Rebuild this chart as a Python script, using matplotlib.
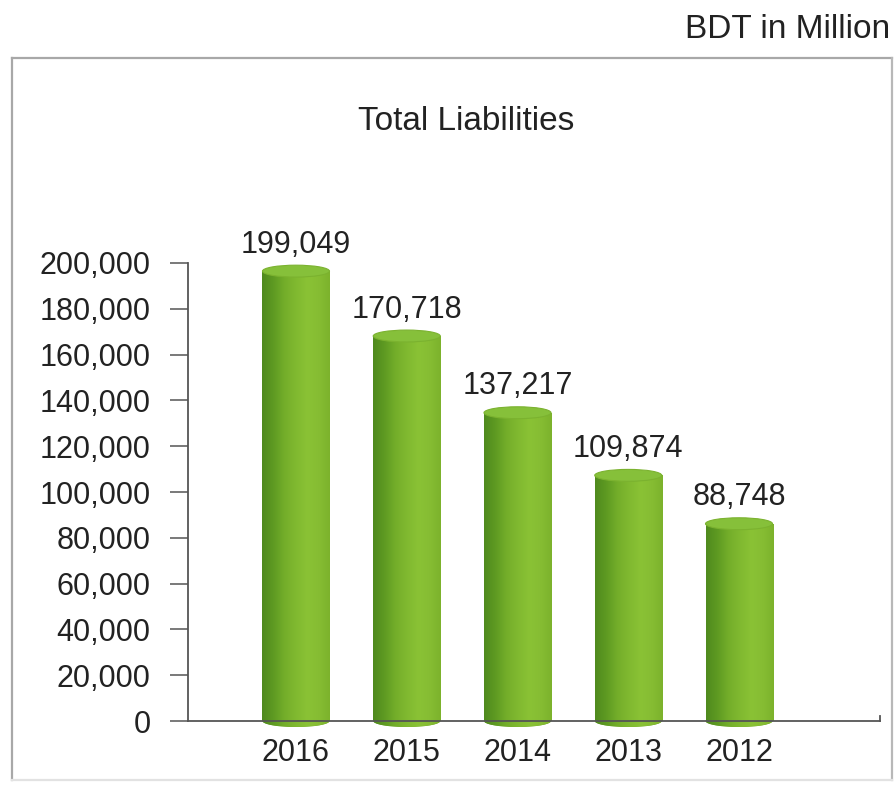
import matplotlib
matplotlib.use("Agg")
import matplotlib.pyplot as plt
import numpy as np
from matplotlib.patches import Rectangle, Ellipse
from matplotlib.colors import LinearSegmentedColormap
from matplotlib.lines import Line2D

years = ["2016", "2015", "2014", "2013", "2012"]
values = [199049, 170718, 137217, 109874, 88748]
yticks = [0, 20000, 40000, 60000, 80000, 100000, 120000, 140000, 160000, 180000, 200000]
title = "Total Liabilities"
unit = "BDT in Million"

plt.rcParams['font.family'] = ['Liberation Sans', 'DejaVu Sans']

W, H = 894, 789
fig = plt.figure(figsize=(W / 100, H / 100), dpi=100)
fig.patch.set_facecolor("white")

# outer frame
fx0, fx1, fy0, fy1 = 12 / W, 892 / W, 1 - 780 / H, 1 - 58 / H
for xs, ys, c in [([fx0, fx0], [fy0, fy1], "#a8a8a8"),
                  ([fx0, fx1], [fy1, fy1], "#a8a8a8"),
                  ([fx1, fx1], [fy0, fy1], "#b8b8b8"),
                  ([fx0, fx1], [fy0, fy0], "#e2e2e2")]:
    fig.add_artist(Line2D(xs, ys, color=c, lw=1.6, transform=fig.transFigure))

ax_left, ax_right = 188 / W, 880 / W
ax_bottom_px, ax_top_px = 727.9, 263
ax = fig.add_axes([ax_left, 1 - ax_bottom_px / H, ax_right - ax_left,
                   (ax_bottom_px - ax_top_px) / H])
ax.set_facecolor("none")

x = np.arange(len(years))
bw = 0.605
cap_h = 5200

cmap = LinearSegmentedColormap.from_list(
    "cyl", ["#4f8a1e", "#5e9a22", "#74ae2a", "#80b930", "#8ac235", "#86bd33", "#7cb22c"])
grad = np.linspace(0, 1, 256).reshape(1, -1)

for xi, v in zip(x, values):
    x0 = xi - bw / 2
    # bottom ellipse
    bot = Ellipse((xi, 0), bw, cap_h, facecolor="#6aa527", edgecolor="none", zorder=2)
    ax.add_patch(bot)
    body = Rectangle((x0, 0), bw, v - cap_h / 2, facecolor="none", edgecolor="none")
    ax.add_patch(body)
    im = ax.imshow(grad, cmap=cmap, extent=[x0, x0 + bw, 0, v - cap_h / 2],
                   aspect="auto", origin="lower", zorder=3, interpolation="bilinear")
    im.set_clip_path(body)
    im2 = ax.imshow(grad, cmap=cmap, extent=[x0, x0 + bw, -cap_h / 2, 0],
                    aspect="auto", origin="lower", zorder=3, interpolation="bilinear")
    im2.set_clip_path(bot)
    cap = Ellipse((xi, v - cap_h / 2), bw, cap_h, facecolor="#86c03a",
                  edgecolor="#7bb22f", lw=0.8, zorder=4)
    ax.add_patch(cap)
    ax.annotate(f"{v:,}", xy=(xi, v), xytext=(0, 9), textcoords="offset points",
                ha="center", va="baseline", fontsize=22, color="#222222",
                annotation_clip=False, zorder=5)

ax.set_xlim(-0.975, 5.273)
ax.set_ylim(-3000, 200000)

for s in ["top", "right"]:
    ax.spines[s].set_visible(False)
ax.spines["bottom"].set_position(("data", 0))
ax.spines["left"].set_bounds(0, 200000)
for s in ["bottom", "left"]:
    ax.spines[s].set_color("#555555")
    ax.spines[s].set_linewidth(1.3)
    ax.spines[s].set_zorder(6)

ax.set_yticks(yticks)
ax.set_yticklabels([f"{t:,}" for t in yticks])
ax.tick_params(axis="y", direction="out", length=13, width=1.1, color="#555555",
               pad=14, labelsize=22, labelcolor="#222222")
ax.set_xticks(x)
ax.set_xticklabels(years)
ax.tick_params(axis="x", length=0, pad=12, labelsize=22, labelcolor="#222222")

# small end tick on the x axis
ax.plot([1, 1], [0, 2300], transform=ax.get_yaxis_transform(), color="#555555",
        lw=1.3, clip_on=False)

fig.text(466 / W, 1 - 121 / H, title, ha="center", va="center", fontsize=24,
         color="#222222")
fig.text(890 / W, 1 - 30 / H, unit, ha="right", va="center", fontsize=24,
         color="#222222")

fig.savefig("out.png", dpi=100)
